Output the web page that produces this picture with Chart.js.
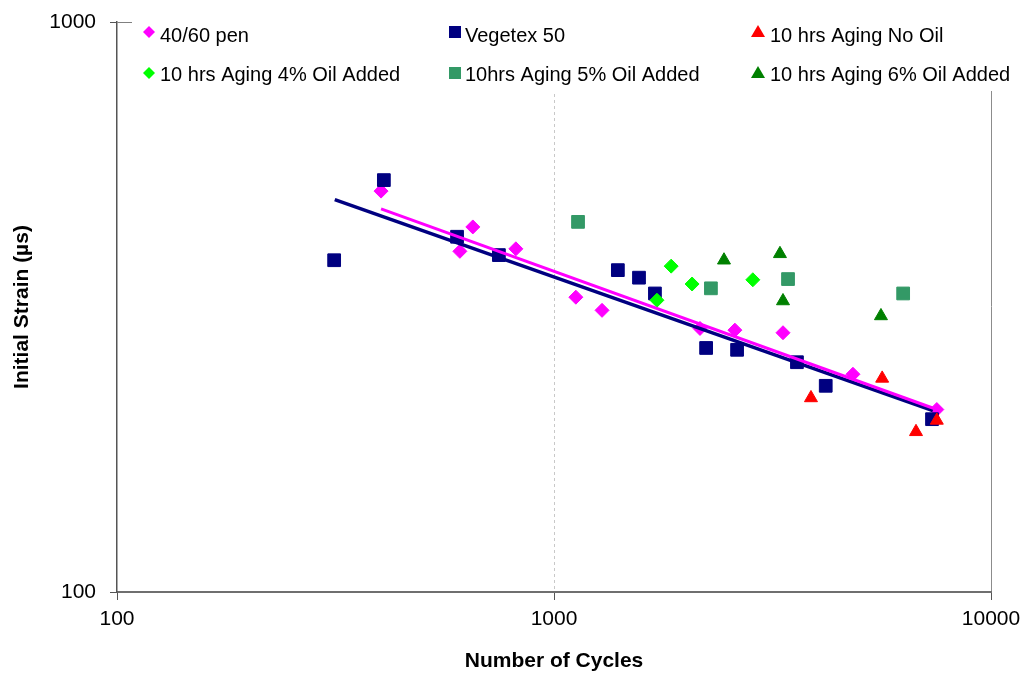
<!DOCTYPE html>
<html>
<head>
<meta charset="utf-8">
<script src="https://cdn.jsdelivr.net/npm/chart.js@4.4.1/dist/chart.umd.min.js"></script>
<style>
	html, body { margin: 0; padding: 0; background: #fff; }
</style>
</head>
<body>
<canvas id="chart-strain" width="1033" height="675"></canvas>
<script>
// values (cycles, initial strain in µs)
const penCycles = [402, 609, 652, 818, 1122, 1288, 2158, 2594, 3342, 4831, 7516];
const penStrain = [505, 396, 437, 400, 329, 312, 290, 288, 285, 241, 209];

const vegCycles = [314, 408, 600, 748, 1400, 1565, 1702, 2229, 2624, 3597, 4186, 7329];
const vegStrain = [382, 528, 420, 390, 367, 356, 334, 268, 266, 253, 230, 201];

const noOilCycles = [3873, 5636, 6736, 7516];
const noOilStrain = [219, 237, 191, 200];

const oil4Cycles = [1720, 1854, 2070, 2851];
const oil4Strain = [325, 373, 347, 353];

const oil5Cycles = [1135, 2286, 3432, 6295];
const oil5Strain = [446, 341, 354, 334];

const oil6Cycles = [2449, 3289, 3342, 5600];
const oil6Strain = [382, 392, 324, 305];

// trendline end points (power fits as drawn in the reference)
const penTrendCycles = [402, 7516];
const penTrendStrain = [470, 209];
const vegTrendCycles = [315, 7360];
const vegTrendStrain = [488, 208];

const xTicks = [100, 1000, 10000];
const yTicks = [100, 1000];

const FONT = '"Liberation Sans", Arial, sans-serif';

function points(xs, ys) {
	return xs.map((x, i) => ({x: x, y: ys[i]}));
}

function series(label, xs, ys, color, style, radius, order) {
	return {
		label: label,
		data: points(xs, ys),
		backgroundColor: color,
		borderColor: color,
		borderWidth: 1,
		pointStyle: style,
		pointRadius: radius,
		pointHoverRadius: radius,
		showLine: false,
		order: order,
	};
}

function trend(xs, ys, color, width, order) {
	return {
		label: '',
		isTrend: true,
		data: points(xs, ys),
		borderColor: color,
		backgroundColor: color,
		borderWidth: width,
		pointRadius: 0,
		showLine: true,
		order: order,
	};
}

const datasets = [
	series('40/60 pen', penCycles, penStrain, '#ff00ff', 'rectRot', 7, 7),
	series('Vegetex 50', vegCycles, vegStrain, '#000080', 'rect', 9, 6),
	series('10 hrs Aging No Oil', noOilCycles, noOilStrain, '#ff0000', 'triangle', 7.5, 5),
	series('10 hrs Aging 4% Oil Added', oil4Cycles, oil4Strain, '#00ff00', 'rectRot', 7, 4),
	series('10hrs Aging 5% Oil Added', oil5Cycles, oil5Strain, '#339966', 'rect', 9, 3),
	series('10 hrs Aging 6% Oil Added', oil6Cycles, oil6Strain, '#008000', 'triangle', 7.5, 2),
	trend(vegTrendCycles, vegTrendStrain, '#000080', 3.5, 1),
	trend(penTrendCycles, penTrendStrain, '#ff00ff', 3, 0),
];

function legendMarker(ctx, style, x, y, color) {
	ctx.fillStyle = color;
	ctx.beginPath();
	if (style === 'rectRot') {
		ctx.moveTo(x - 6, y);
		ctx.lineTo(x, y - 6);
		ctx.lineTo(x + 6, y);
		ctx.lineTo(x, y + 6);
	} else if (style === 'rect') {
		ctx.rect(x - 6, y - 6, 12, 12);
	} else {
		ctx.moveTo(x, y - 7);
		ctx.lineTo(x + 7, y + 5);
		ctx.lineTo(x - 7, y + 5);
	}
	ctx.closePath();
	ctx.fill();
}

// legend sits inside the plot area on a white box, 3 columns x 2 rows
const boxLegend = {
	id: 'boxLegend',
	beforeDatasetsDraw(chart) {
		const ctx = chart.ctx;
		const colMarker = [149, 455, 758];
		const colText = [160, 465, 770];
		const rowMarker = [32, 73];
		const rowText = [36, 75];
		ctx.save();
		ctx.fillStyle = '#ffffff';
		ctx.fillRect(132, 12, 901, 79);
		ctx.font = '20px ' + FONT;
		ctx.textBaseline = 'middle';
		ctx.textAlign = 'left';
		chart.data.datasets.filter(d => !d.isTrend).forEach((d, i) => {
			const col = i % 3;
			const row = Math.floor(i / 3);
			legendMarker(ctx, d.pointStyle, colMarker[col], rowMarker[row], d.backgroundColor);
			ctx.fillStyle = '#000000';
			ctx.fillText(d.label, colText[col], rowText[row]);
		});
		ctx.restore();
	}
};

const ctx = document.getElementById('chart-strain').getContext('2d');

new Chart(ctx, {
	type: 'scatter',
	data: {datasets: datasets},
	plugins: [boxLegend],
	options: {
		responsive: false,
		animation: false,
		devicePixelRatio: 1,
		layout: {padding: {top: 22, right: 42, left: 0, bottom: 0}},
		plugins: {
			legend: {display: false},
			tooltip: {enabled: false},
		},
		scales: {
			x: {
				type: 'logarithmic',
				min: 100,
				max: 10000,
				afterBuildTicks: scale => { scale.ticks = xTicks.map(v => ({value: v})); },
				afterFit: scale => { scale.height = 83; },
				ticks: {
					autoSkip: false,
					maxRotation: 0,
					padding: 7,
					color: '#000',
					font: {family: FONT, size: 21},
					callback: v => String(v),
				},
				grid: {
					color: c => c.tick && c.tick.value === 1000 ? '#c8c8c8' : (c.tick && c.tick.value === 10000 ? '#8c8c8c' : 'rgba(0,0,0,0)'),
					tickColor: '#555',
					tickLength: 8,
					lineWidth: 1,
				},
				border: {
					color: '#6f6f6f',
					width: 2,
					dash: c => c.tick && c.tick.value === 1000 ? [3, 3] : [],
				},
				title: {
					display: true,
					text: 'Number of Cycles',
					color: '#000',
					font: {family: FONT, size: 21, weight: 'bold'},
					padding: {top: 0, bottom: 1},
				},
			},
			y: {
				type: 'logarithmic',
				min: 100,
				max: 1000,
				afterBuildTicks: scale => { scale.ticks = yTicks.map(v => ({value: v})); },
				afterFit: scale => {
					scale.width = 117;
					scale.paddingTop = 0;
					scale.paddingBottom = 0;
				},
				ticks: {
					autoSkip: false,
					padding: 14,
					color: '#000',
					font: {family: FONT, size: 21},
					callback: v => String(v),
				},
				grid: {
					color: c => c.tick && c.tick.value === 1000 ? '#808080' : 'rgba(0,0,0,0)',
					tickColor: '#555',
					tickLength: 7,
					lineWidth: 1,
				},
				border: {
					color: '#555',
					width: 1.5,
				},
				title: {
					display: true,
					text: 'Initial Strain (µs)',
					color: '#000',
					font: {family: FONT, size: 21, weight: 'bold'},
					padding: {top: 10, bottom: 0},
				},
			},
		},
	},
});
</script>
</body>
</html>
